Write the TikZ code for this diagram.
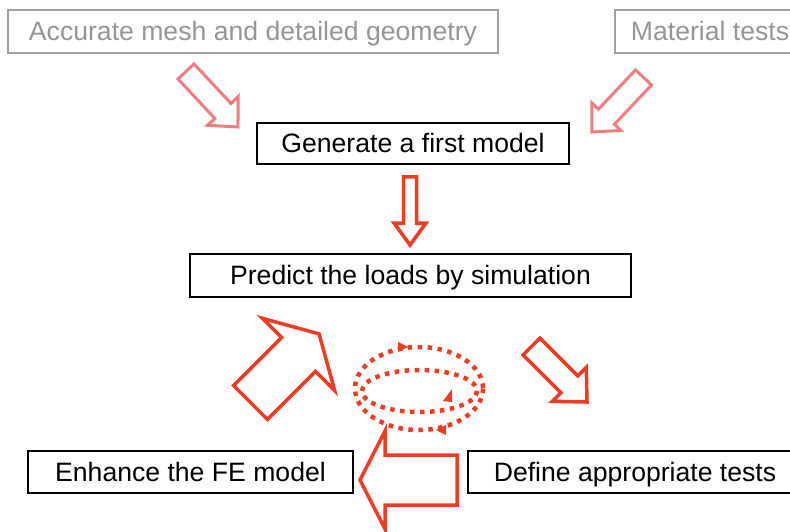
\documentclass[tikz,border=0pt]{standalone}
\usepackage{fontspec}
\setmainfont{Liberation Sans}
\definecolor{boxgray}{RGB}{160,160,160}
\definecolor{txtgray}{RGB}{150,150,150}
\definecolor{pinkarr}{RGB}{240,125,128}
\definecolor{redarr}{RGB}{238,60,36}
\newcommand{\blockarr}[7]{%
  \draw[#1, shift={#2}, rotate=#3] (0,-#5) -- ({#4-#7},-#5) -- ({#4-#7},-#6) -- (#4,0)
    -- ({#4-#7},#6) -- ({#4-#7},#5) -- (0,#5) -- cycle;}
\tikzset{
  txtbase/.style={inner sep=0pt, font=\fontsize{26.6}{30}\selectfont, text height=24.1pt, text depth=5.6pt},
  boxblack/.style={txtbase, draw=black, line width=2pt, text=black},
  boxgrey/.style={txtbase, draw=boxgray, line width=2.5pt, text=txtgray},
  pinkblock/.style={draw=pinkarr, line width=3pt, fill=white, line join=miter},
  redblock/.style={draw=redarr, line width=3.5pt, fill=white, line join=miter},
  dotring/.style={draw=redarr, line width=4.5pt, dash pattern=on 4.5pt off 5.5pt},
  tipred/.style={fill=redarr, draw=none}
}
\begin{document}
\begin{tikzpicture}[x=1pt,y=-1pt]
\useasboundingbox (0,0) rectangle (790,532);
\clip (0,0) rectangle (790,532);
\fill[white] (0,0) rectangle (790,532);
% boxes
\node[boxgrey, minimum width=490pt, minimum height=43pt] (mesh) at (253,31.5) {Accurate mesh and detailed geometry};
\node[boxgrey, minimum width=190pt, minimum height=43pt] (mat) at (710,31.5) {Material tests};
\node[boxblack, minimum width=312pt, minimum height=41pt] (gen) at (413,143.5) {Generate a first model};
\node[boxblack, minimum width=441pt, minimum height=43pt] (pred) at (410.5,275.5) {Predict the loads by simulation};
\node[boxblack, minimum width=325pt, minimum height=42pt] (enh) at (190.5,472) {Enhance the FE model};
\node[boxblack, minimum width=334pt, minimum height=42pt] (def) at (635,472) {Define appropriate tests};
% block arrows
\blockarr{pinkblock}{(186,71.5)}{-46.9}{76}{11}{21}{22}
\blockarr{pinkblock}{(643.5,77.5)}{-133.4}{75}{11}{20}{21}
\blockarr{redblock}{(410,177)}{-90}{68}{6.5}{16}{22}
\blockarr{redblock}{(531.5,346.5)}{-45}{78.5}{12}{24}{25}
\blockarr{redblock}{(250.5,402.5)}{45}{97}{24}{51}{29}
% dotted cycle
\coordinate (cyc) at (419,389);
\draw[dotring] (419,388.5) ellipse [x radius=64, y radius=41.5];
\draw[dotring] (419.5,391) ellipse [x radius=57.5, y radius=21];
\fill[tipred] (398,342) -- (408,347) -- (398,352) -- cycle;
\fill[tipred] (446,425) -- (436,430) -- (446,435) -- cycle;
\fill[tipred] (443,401) -- (452,389) -- (452,402) -- cycle;
\blockarr{redblock}{(457,480)}{180}{97}{25}{49}{25}
\end{tikzpicture}
\end{document}
